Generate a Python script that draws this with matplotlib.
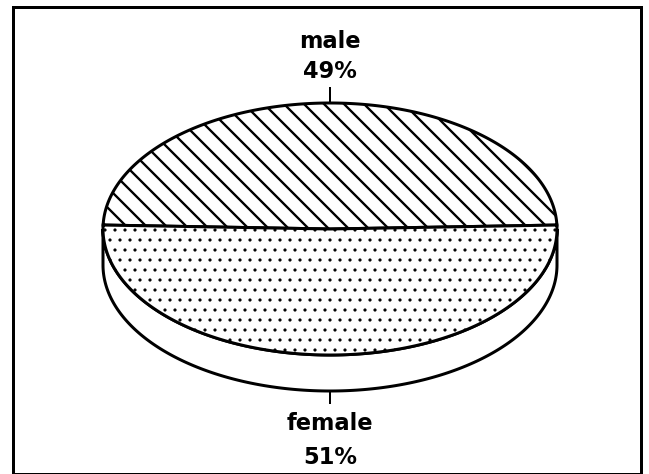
import numpy as np
import matplotlib
matplotlib.use('Agg')
import matplotlib.pyplot as plt
from matplotlib.patches import Polygon, Rectangle

# data
labels = ['male', 'female']
shares = [49, 51]
hatches = ['\\\\', '..']
start_angle = 1.8  # degrees, counter-clockwise

# pie geometry in pixel units (y grows downward)
cx, cy = 330, 229
a, b = 227, 126
depth = 36

plt.rcParams['font.family'] = ['DejaVu Sans']

fig = plt.figure(figsize=(649 / 120, 474 / 120), dpi=120)
ax = fig.add_axes([0, 0, 1, 1])
ax.set_xlim(0, 649)
ax.set_ylim(474, 0)
ax.axis('off')


def ell(t_deg, dy=0):
    t = np.radians(t_deg)
    return cx + a * np.cos(t), cy - b * np.sin(t) + dy


# side wall (front half of the cylinder)
t_front = np.linspace(180, 360, 200)
tx, ty = ell(t_front)
bx, by = ell(t_front[::-1], depth)
wall = Polygon(np.column_stack([np.r_[tx, bx], np.r_[ty, by]]), closed=True,
               facecolor='white', edgecolor='black', lw=1.8, zorder=1)
ax.add_patch(wall)

# top face wedges
total = sum(shares)
theta = start_angle
mids = []
for lab, share, hatch in zip(labels, shares, hatches):
    span = 360 * share / total
    t = np.linspace(theta, theta + span, 300)
    ex, ey = ell(t)
    verts = np.column_stack([np.r_[cx, ex], np.r_[cy, ey]])
    hl = 1.4 if '\\' in hatch else 0.7
    with plt.rc_context({'hatch.linewidth': hl}):
        wedge = Polygon(verts, closed=True, facecolor='white', edgecolor='black',
                        hatch=hatch, lw=1.8, zorder=2)
        if hasattr(wedge, 'set_hatch_linewidth'):
            wedge.set_hatch_linewidth(hl)
        ax.add_patch(wedge)
    mids.append(theta + span / 2)
    theta += span

# labels with leader ticks
for lab, share, mid in zip(labels, shares, mids):
    mx, my = ell(mid)
    if np.sin(np.radians(mid)) > 0:
        ax.plot([mx, mx], [my, my - 15], color='black', lw=1.2, zorder=3)
        y_name, y_pct = 41, 71
    else:
        my = my + depth
        ax.plot([mx, mx], [my, my + 12], color='black', lw=1.2, zorder=3)
        y_name, y_pct = 424, 457
    ax.text(mx, y_name, lab, ha='center', va='center', fontsize=13.5,
            fontweight='bold')
    ax.text(mx, y_pct, f'{share}%', ha='center', va='center', fontsize=13.5,
            fontweight='bold')

# frame
ax.add_patch(Rectangle((13, 7), 628, 467, fill=False, edgecolor='black', lw=1.8))

plt.savefig('out.png', dpi=120)
